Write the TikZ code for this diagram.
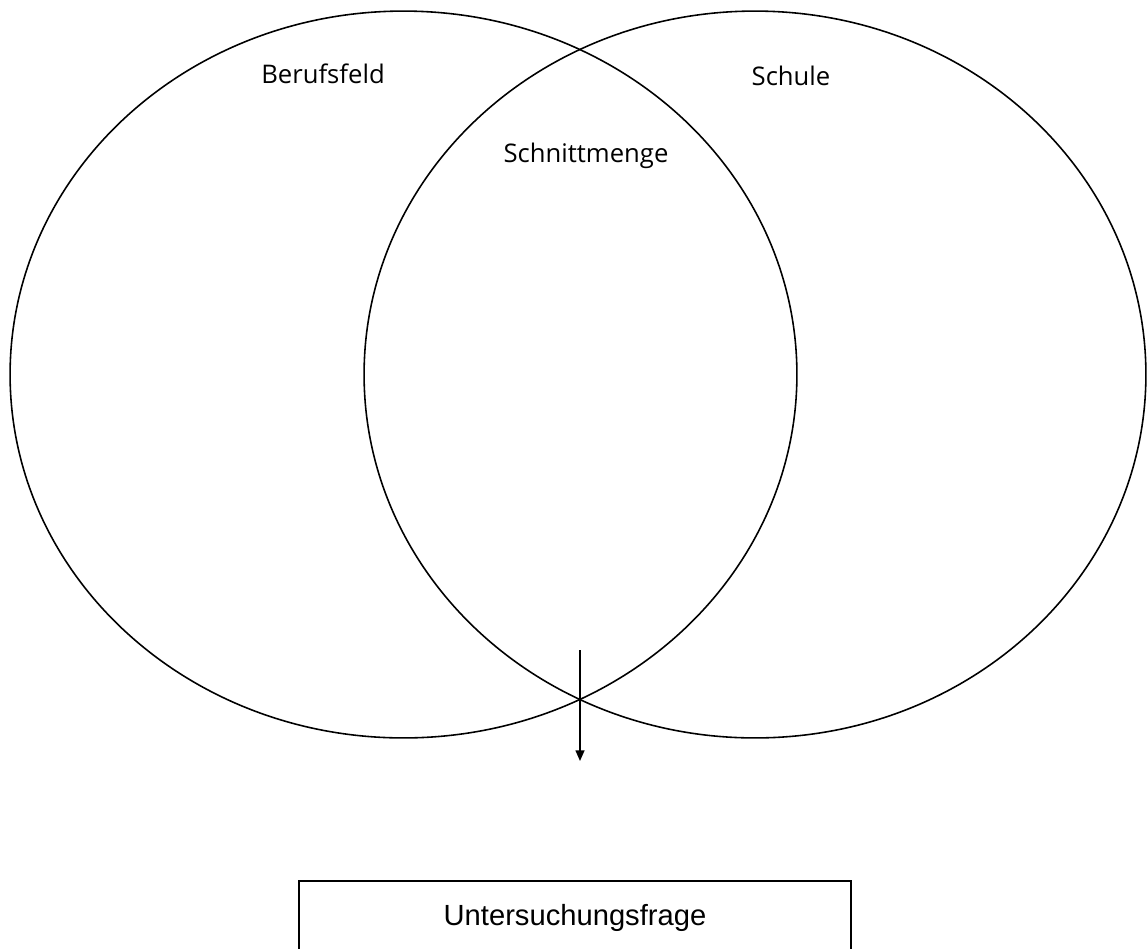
\documentclass[tikz,border=0pt]{standalone}
\usepackage{fontspec}
\setmainfont{Open Sans}
\newfontfamily\boxfont{Liberation Sans}
\usetikzlibrary{shapes.geometric,arrows.meta}

\begin{document}
\begin{tikzpicture}[x=0.02cm, y=-0.02cm,
	menge/.style={draw, ellipse, line width=0.9pt, inner sep=0pt, minimum height=14.54cm},
	label/.style={font=\fontsize{14.6}{17}\selectfont, inner sep=0pt, anchor=base},
	frage/.style={draw, line width=1.1pt, minimum width=11.04cm, minimum height=1.48cm, font=\boxfont\fontsize{16.6}{20}\selectfont}]
	% Fix the frame
	\useasboundingbox (0,0) rectangle (1147,948);
	\clip (0,0) rectangle (1147,948);
	% Draw the two sets
	\node[menge, minimum width=15.74cm] (berufsfeld) at (403.5,374.5) {};
	\node[menge, minimum width=15.64cm] (schule) at (755,374.5) {};
	% Add the set labels
	\node[label] (berufsfeld-text) at (323,83) {Berufsfeld};
	\node[label] (schule-text) at (791,85) {Schule};
	\node[label] (schnitt-text) at (586,162) {Schnittmenge};
	% Draw the box and the arrow
	\node[frage] (frage) at (575,918) {Untersuchungsfrage};
	\coordinate (pfeil-start) at (580,650);
	\coordinate (pfeil-ende) at (580,761);
	\draw[line width=0.9pt, -{Triangle[length=6pt,width=5pt]}] (pfeil-start) -- (pfeil-ende);
\end{tikzpicture}
\end{document}
